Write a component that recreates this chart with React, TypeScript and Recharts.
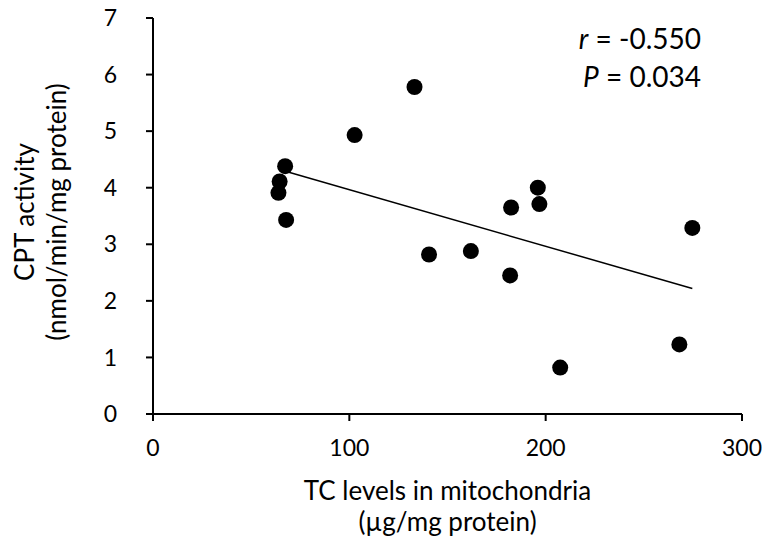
import React from "react"
import {
  ScatterChart,
  Scatter,
  XAxis,
  YAxis,
  Customized,
} from "recharts"

// TC levels (µg/mg protein) vs CPT activity (nmol/min/mg protein)
const tcLevels = [133.2, 102.7, 67.3, 64.5, 63.9, 67.8, 140.6, 196.0, 182.4, 196.8, 274.7, 161.9, 181.9, 268.1, 207.4]
const cptActivity = [5.78, 4.93, 4.38, 4.11, 3.91, 3.43, 2.82, 4.0, 3.65, 3.71, 3.29, 2.88, 2.45, 1.23, 0.82]

const xTicks = [0, 100, 200, 300]
const yTicks = [0, 1, 2, 3, 4, 5, 6, 7]

const stats = { r: "-0.550", p: "0.034" }

const FONT = "Lato, 'Open Sans', sans-serif"

const points = tcLevels.map((x, i) => ({ x, y: cptActivity[i] }))

// least squares fit, drawn from min x to max x
function fitLine(pts: { x: number; y: number }[]) {
  const n = pts.length
  const mx = pts.reduce((s, p) => s + p.x, 0) / n
  const my = pts.reduce((s, p) => s + p.y, 0) / n
  let sxy = 0
  let sxx = 0
  pts.forEach(p => {
    sxy += (p.x - mx) * (p.y - my)
    sxx += (p.x - mx) * (p.x - mx)
  })
  const slope = sxy / sxx
  const icpt = my - slope * mx
  const xs = pts.map(p => p.x)
  const x0 = Math.min(...xs)
  const x1 = Math.max(...xs)
  return [
    { x: x0, y: icpt + slope * x0 },
    { x: x1, y: icpt + slope * x1 },
  ]
}

const trend = fitLine(points)

const axisStroke = { stroke: "#000", strokeWidth: 2 }
const tickStyle = { fill: "#000", fontSize: 23, fontFamily: FONT }

const YTitle = (props: any) => {
  const { viewBox } = props
  const cy = viewBox.y + viewBox.height / 2 - 4
  return (
    <g fontFamily={FONT} fontSize={26} fill="#000" textAnchor="middle">
      <text transform={`translate(24, ${cy}) rotate(-90)`} dominantBaseline="central">CPT activity</text>
      <text transform={`translate(56, ${cy}) rotate(-90)`} dominantBaseline="central">(nmol/min/mg protein)</text>
    </g>
  )
}

const XTitle = (props: any) => {
  const { viewBox } = props
  const cx = viewBox.x + viewBox.width / 2
  return (
    <g fontFamily={FONT} fontSize={26} fill="#000" textAnchor="middle">
      <text x={cx} y={viewBox.y + 86}>TC levels in mitochondria</text>
      <text x={cx} y={viewBox.y + 117}>(µg/mg protein)</text>
    </g>
  )
}

const StatsNote = () => (
  <g fontFamily={FONT} fontSize={28} fill="#000" textAnchor="end">
    <text x={701} y={49}>
      <tspan fontStyle="italic">r</tspan> = {stats.r}
    </text>
    <text x={701} y={87}>
      <tspan fontStyle="italic">P</tspan> = {stats.p}
    </text>
  </g>
)

const Dot = (p: any) => <circle cx={p.cx} cy={p.cy} r={8} fill="#000" />
const NoDot = () => <g />

export default function App() {
  return (
    <div style={{ position: "absolute", left: 0, top: 0, width: 762, height: 537, background: "#fff" }}>
      <ScatterChart width={762} height={537} margin={{ top: 18, right: 20, bottom: 93, left: 93 }}>
        <XAxis
          type="number"
          dataKey="x"
          domain={[0, 300]}
          ticks={xTicks}
          interval={0}
          height={30}
          axisLine={axisStroke}
          tickLine={axisStroke}
          tickSize={7}
          tickMargin={19}
          tick={tickStyle}
          label={{ content: XTitle }}
        />
        <YAxis
          type="number"
          dataKey="y"
          domain={[0, 7]}
          ticks={yTicks}
          interval={0}
          width={60}
          axisLine={axisStroke}
          tickLine={axisStroke}
          tickSize={7}
          tickMargin={29}
          tick={tickStyle}
          label={{ content: YTitle }}
        />
        <Scatter
          data={trend}
          line={{ stroke: "#000", strokeWidth: 1.5 }}
          lineType="joint"
          shape={NoDot}
          isAnimationActive={false}
        />
        <Scatter data={points} shape={Dot} isAnimationActive={false} />
        <Customized component={StatsNote} />
      </ScatterChart>
    </div>
  )
}
